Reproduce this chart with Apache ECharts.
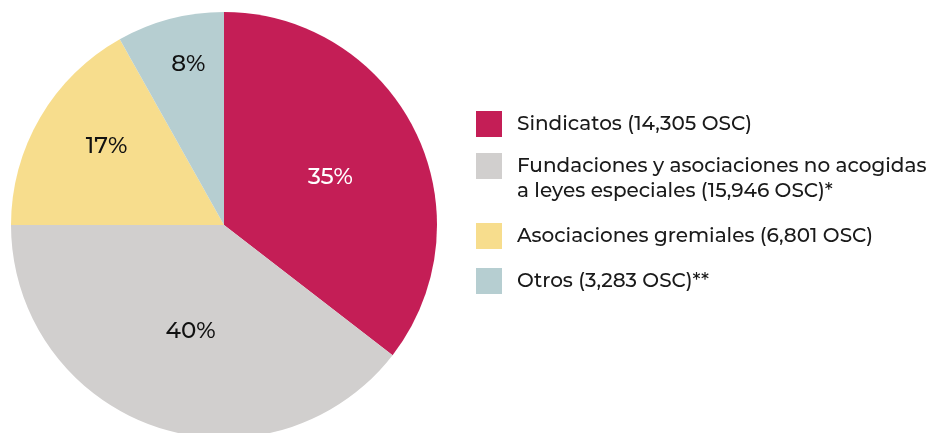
<!DOCTYPE html>
<html>
<head>
<meta charset="utf-8">
<script src="https://cdn.jsdelivr.net/npm/echarts@6/dist/echarts.min.js"></script>
<style>
  html, body { margin: 0; padding: 0; background: #fff; }
  #chart { width: 927px; height: 433px; }
</style>
</head>
<body>
<div id="chart"></div>
<script>
// categorías y número de OSC
const categories = [
  'Sindicatos (14,305 OSC)',
  'Fundaciones y asociaciones no acogidas\na leyes especiales (15,946 OSC)*',
  'Asociaciones gremiales (6,801 OSC)',
  'Otros (3,283 OSC)**'
];
const values = [14305, 15946, 6801, 3283];
const colors = ['#C41E56', '#D1CFCE', '#F7DD8D', '#B6CED1'];
const labelColors = ['#ffffff', '#111111', '#111111', '#111111'];
// desplazamiento de cada etiqueta dentro de su sector
const labelOffsets = [[8, 1], [2, 3], [-23, -23], [-8, -55]];

const font = 'Montserrat, "Noto Sans", sans-serif';

const chart = echarts.init(document.getElementById('chart'));

// una leyenda por categoría para poder alinear el texto de dos líneas
const legendTops = [111, 128.5, 223, 268];
const legends = categories.map((name, i) => {
  const twoLines = name.indexOf('\n') >= 0;
  return {
    data: [name],
    orient: 'vertical',
    left: 476,
    top: legendTops[i],
    padding: 0,
    itemWidth: 26,
    itemHeight: 26,
    itemGap: 0,
    icon: 'rect',
    selectedMode: false,
    // línea vacía arriba para que la primera línea quede a la altura del cuadro
    formatter: n => (twoLines ? '\n' + n : n),
    textStyle: {
      fontFamily: font,
      fontSize: 20,
      fontWeight: 500,
      color: '#1a1a1a',
      lineHeight: 25,
      padding: [0, 0, 0, 10]
    }
  };
});

chart.setOption({
  animation: false,
  color: colors,
  legend: legends,
  series: [{
    type: 'pie',
    center: [224, 225],
    radius: 213,
    startAngle: 90,
    clockwise: true,
    percentPrecision: 0,
    label: {
      position: 'inside',
      formatter: '{d}%',
      fontFamily: font,
      fontSize: 23,
      fontWeight: 500
    },
    labelLine: { show: false },
    emphasis: { disabled: true },
    itemStyle: { borderWidth: 0 },
    data: categories.map((name, i) => ({
      name: name,
      value: values[i],
      label: { color: labelColors[i], offset: labelOffsets[i] }
    }))
  }]
});
</script>
</body>
</html>
